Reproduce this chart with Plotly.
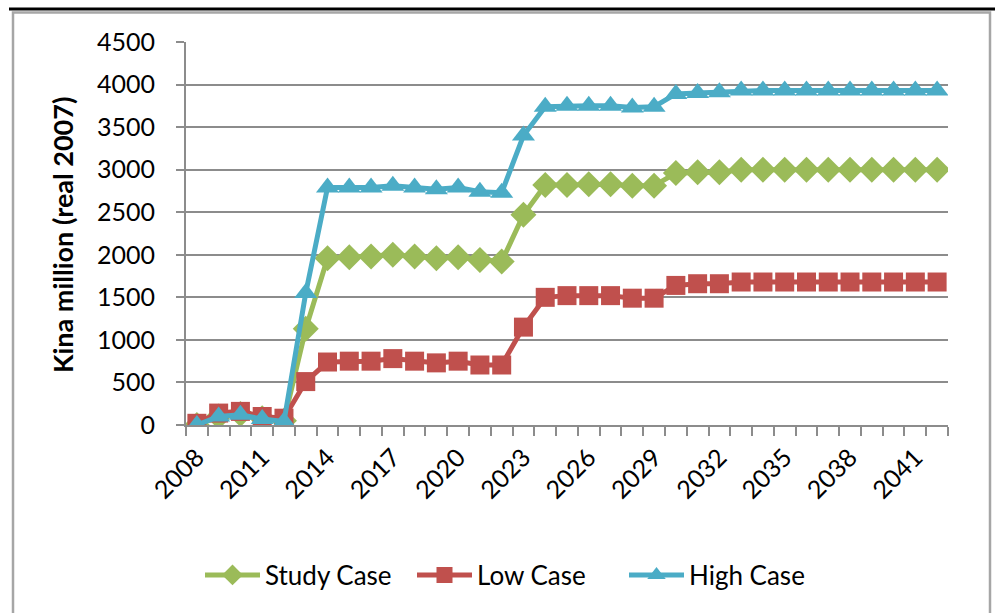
import plotly.graph_objects as go

# Annual values, Kina million (real 2007)
years = list(range(2008, 2043))
study_case = [0, 100, 130, 80, 50, 1130,
              1960, 1970, 1980, 2000, 1980, 1960, 1970, 1940, 1920,
              2470, 2820, 2820, 2830, 2830, 2810, 2810,
              2960, 2970, 2970,
              3000, 3000, 3000, 3000, 3000, 3000, 3000, 3000, 3000, 3000]
low_case = [20, 140, 160, 100, 80, 510,
            740, 750, 750, 780, 750, 730, 750, 705, 705,
            1150, 1500, 1520, 1520, 1520, 1490, 1490,
            1640, 1660, 1660,
            1680, 1680, 1680, 1680, 1680, 1680, 1680, 1680, 1680, 1680]
high_case = [0, 100, 120, 70, 40, 1550,
             2790, 2790, 2790, 2810, 2790, 2770, 2790, 2740, 2730,
             3400, 3740, 3750, 3750, 3750, 3730, 3740,
             3890, 3900, 3910,
             3930, 3930, 3930, 3930, 3930, 3930, 3930, 3930, 3930, 3930]
label_years = list(range(2008, 2042, 3))
y_ticks = list(range(0, 4501, 500))

W, H = 995, 613
L, R, T, B = 186, 47, 42, 188
PW, PH = W - L - R, H - T - B


def px_x(x):
    return (x - L) / PW


def px_y(y):
    return (T + PH - y) / PH


FONT = "Lato"
GRID = "#8C8C8C"

series = [
    ("Study Case", study_case, "#9BBB59", "diamond", 20),
    ("Low Case", low_case, "#C0504D", "square", 19),
    ("High Case", high_case, "#4BACC6", "triangle-up", 20),
]

fig = go.Figure()
for name, vals, color, symbol, size in series:
    fig.add_trace(go.Scatter(
        x=years, y=vals, name=name, mode="lines+markers",
        line=dict(color=color, width=5),
        marker=dict(symbol=symbol, size=size, color=color,
                    line=dict(width=0)),
    ))

fig.update_layout(
    width=W, height=H,
    margin=dict(l=L, r=R, t=T, b=B, autoexpand=False),
    paper_bgcolor="white", plot_bgcolor="white",
    font=dict(family=FONT, color="black"),
    showlegend=True,
    legend=dict(orientation="h", x=px_x(200), xanchor="left",
                y=px_y(575), yanchor="middle",
                font=dict(size=26, family=FONT), itemwidth=55,
                entrywidth=142, entrywidthmode="pixels",
                tracegroupgap=0),
    xaxis=dict(
        range=[2007.5, 2042.5], tickmode="array", tickvals=label_years,
        ticktext=[str(y) for y in label_years], tickangle=-45,
        tickfont=dict(size=25, family=FONT), ticks="",
        ticklabelstandoff=6, automargin=False,
        showgrid=False, zeroline=False,
        showline=True, linecolor=GRID, linewidth=2,
        minor=dict(tick0=2007.5, dtick=1, ticks="outside", ticklen=9,
                   tickwidth=2, tickcolor=GRID, showgrid=False),
    ),
    yaxis=dict(
        range=[0, 4500], tickmode="array", tickvals=y_ticks,
        tickfont=dict(size=25, family=FONT),
        ticks="outside", ticklen=8, tickwidth=2, tickcolor=GRID,
        ticklabelstandoff=16, automargin=False,
        showgrid=True, gridcolor=GRID, gridwidth=1.5,
        zeroline=False, showline=True, linecolor=GRID, linewidth=2,
    ),
    annotations=[dict(
        text="<b>Kina million (real 2007)</b>", textangle=-90,
        xref="paper", yref="paper", x=px_x(62), y=px_y(235),
        xanchor="center", yanchor="middle", showarrow=False,
        font=dict(size=27, family=FONT, color="black"),
    )],
    shapes=[
        dict(type="line", xref="paper", yref="paper",
             x0=px_x(9), x1=px_x(996), y0=px_y(9), y1=px_y(9),
             line=dict(color="black", width=3)),
        dict(type="rect", xref="paper", yref="paper",
             x0=px_x(13), x1=px_x(990), y0=px_y(12.5), y1=px_y(630),
             line=dict(color="#A6A6A6", width=2.5)),
    ],
)

fig.write_html("out.html")
